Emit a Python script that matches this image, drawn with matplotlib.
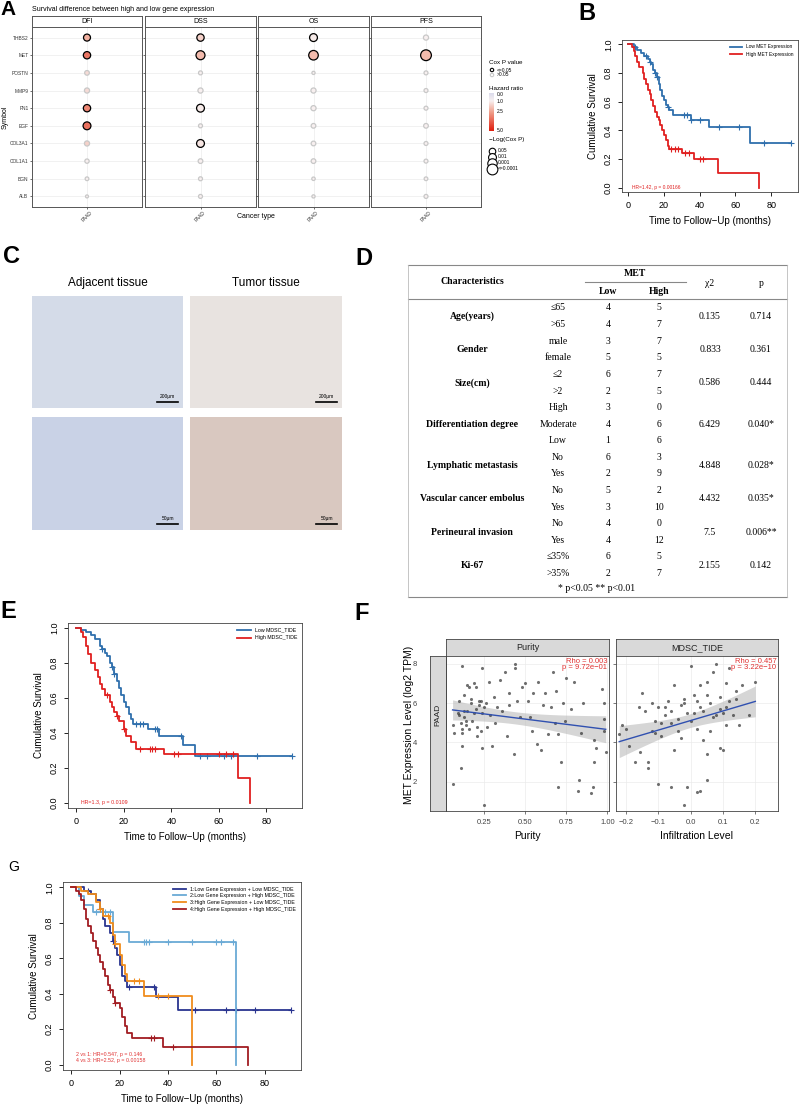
import numpy as np
import matplotlib
matplotlib.use("Agg")
import matplotlib.pyplot as plt
from matplotlib.colors import LinearSegmentedColormap

W, H = 800, 1107

# ---------------- data ----------------
genes = ["THBS2", "MET", "POSTN", "MMP9", "FN1", "EGF", "COL3A1", "COL1A1", "BGN", "ALB"]
endpoints = ["DFI", "DSS", "OS", "PFS"]
hazard = {
    "DFI": [2.2, 3.3, 1.4, 1.4, 3.0, 3.4, 1.6, 1.0, 1.0, 1.0],
    "DSS": [1.6, 2.0, 1.0, 1.0, 1.1, 1.0, 1.2, 1.0, 1.0, 1.0],
    "OS": [1.1, 2.0, 1.0, 1.0, 1.0, 1.0, 1.0, 1.0, 1.0, 1.0],
    "PFS": [1.0, 2.0, 1.0, 1.0, 1.0, 1.0, 1.0, 1.0, 1.0, 1.0],
}
cox_p = {
    "DFI": [0.03, 0.02, 0.3, 0.2, 0.02, 0.01, 0.2, 0.4, 0.6, 0.9],
    "DSS": [0.02, 0.002, 0.5, 0.2, 0.01, 0.5, 0.01, 0.3, 0.5, 0.5],
    "OS": [0.01, 0.0008, 0.8, 0.2, 0.2, 0.3, 0.3, 0.3, 0.7, 0.8],
    "PFS": [0.2, 0.0001, 0.5, 0.5, 0.5, 0.3, 0.5, 0.5, 0.6, 0.5],
}

# B: MET expression KM
b_low_t = [0, 3, 5, 7, 9, 11, 12, 13, 14, 15, 16, 17, 18, 19, 20, 21, 22, 23, 25, 35, 45, 68]
b_low_s = [1.0, .98, .96, .94, .92, .90, .88, .86, .82, .80, .77, .72, .68, .64, .61, .58, .56, .54, .51, .47, .42, .31]
b_low_end = 91
b_low_cens = [4, 10, 12, 15, 16, 22, 31, 33, 35, 40, 51, 62, 76, 91]
b_high_t = [0, 2, 3, 4, 5, 6, 8, 9, 10, 11, 12, 13, 14, 15, 16, 17, 18, 19, 20, 21, 22, 23, 30, 37, 50, 73]
b_high_s = [1.0, .98, .95, .92, .88, .84, .80, .76, .72, .68, .65, .61, .57, .53, .49, .47, .44, .40, .37, .33, .29, .27, .24, .20, .10, 0.0]
b_high_end = 73
b_high_cens = [24, 26, 28, 32, 34, 40, 42]

# E: MDSC_TIDE KM
e_low_t = [0, 2, 4, 6, 8, 10, 11, 12, 13, 14, 15, 16, 17, 18, 19, 20, 21, 22, 23, 24, 30, 35, 45, 50]
e_low_s = [1.0, .99, .98, .96, .94, .90, .88, .86, .84, .80, .78, .74, .70, .66, .62, .58, .55, .51, .48, .45, .42, .38, .33, .27]
e_low_end = 91
e_low_cens = [11, 15, 16, 25, 27, 28, 33, 34, 44, 52, 55, 62, 65, 76, 91]
e_high_t = [0, 2, 3, 4, 5, 6, 8, 9, 10, 11, 12, 14, 15, 16, 17, 18, 20, 21, 23, 25, 37, 68, 73]
e_high_s = [1.0, .98, .95, .90, .85, .80, .76, .72, .68, .65, .62, .58, .55, .52, .50, .47, .42, .38, .35, .31, .28, .14, 0.0]
e_high_end = 73
e_high_cens = [13, 17, 20, 27, 31, 32, 33, 41, 43, 60, 63, 66]

# G: four groups KM
g1_t = [0, 5, 8, 10, 12, 13, 14, 16, 17, 18, 19, 20, 21, 22, 23, 35, 44]
g1_s = [1.0, .98, .96, .93, .88, .82, .78, .74, .70, .66, .62, .56, .50, .47, .44, .38, .31]
g1_end = 91
g1_cens = [7, 12, 17, 24, 34, 51, 64, 68, 76, 91]
g2_t = [0, 3, 5, 9, 17, 24, 68]
g2_s = [1.0, .95, .90, .86, .75, .69, 0.0]
g2_end = 68
g2_cens = [10, 14, 16, 30, 31, 32, 40, 50, 60, 62, 67]
g3_t = [0, 4, 7, 10, 12, 13, 16, 17, 18, 20, 21, 22, 23, 30, 50]
g3_s = [1.0, .98, .96, .92, .88, .84, .80, .73, .68, .62, .56, .51, .47, .39, 0.0]
g3_end = 50
g3_cens = [12, 15, 18, 26, 28, 36, 40]
g4_t = [0, 2, 3, 4, 5, 6, 7, 8, 9, 10, 11, 12, 13, 14, 15, 16, 17, 18, 20, 21, 22, 23, 25, 38, 73]
g4_s = [1.0, .98, .96, .93, .88, .82, .78, .74, .70, .66, .62, .58, .54, .50, .45, .42, .38, .35, .32, .27, .22, .18, .15, .10, 0.0]
g4_end = 73
g4_cens = [16, 18, 33, 34, 42]

# F: scatter (purity, MET) and (MDSC_TIDE, MET)
pur_x = [0.06, 0.06, 0.07, 0.09, 0.10, 0.11, 0.11, 0.12, 0.12, 0.12, 0.13, 0.13, 0.14, 0.15, 0.15, 0.16, 0.17,
         0.18, 0.19, 0.20, 0.20, 0.21, 0.22, 0.22, 0.23, 0.24, 0.24, 0.25, 0.25, 0.26, 0.27, 0.28, 0.29, 0.30,
         0.31, 0.32, 0.33, 0.35, 0.36, 0.38, 0.39, 0.40, 0.40, 0.43, 0.44, 0.44, 0.45, 0.47, 0.48, 0.50, 0.52,
         0.53, 0.54, 0.55, 0.57, 0.58, 0.60, 0.61, 0.62, 0.64, 0.66, 0.67, 0.68, 0.69, 0.70, 0.70, 0.72, 0.73,
         0.74, 0.75, 0.78, 0.80, 0.82, 0.83, 0.84, 0.85, 0.90, 0.91, 0.92, 0.92, 0.93, 0.97, 0.98, 0.98, 0.99, 0.98,
         0.10, 0.12, 0.14, 0.17, 0.19, 0.21, 0.23, 0.13, 0.16, 0.24]
pur_y = [1.9, 4.9, 4.5, 5.5, 6.1, 2.7, 5.0, 7.9, 4.5, 3.8, 6.4, 5.3, 4.9, 6.9, 5.6, 4.7, 6.2,
         5.1, 7.0, 5.7, 6.8, 4.3, 5.9, 6.1, 4.6, 7.8, 3.7, 5.8, 0.8, 6.0, 4.8, 7.1, 5.4, 3.8,
         6.3, 5.0, 5.8, 7.2, 5.6, 7.6, 4.3, 6.5, 5.9, 3.4, 8.0, 7.8, 6.1, 5.3, 6.8, 7.0, 6.1,
         5.3, 4.6, 6.5, 3.9, 7.1, 3.6, 5.9, 6.5, 4.4, 5.8, 7.6, 5.0, 6.6, 1.7, 4.4, 3.0, 6.0,
         5.1, 7.3, 5.7, 7.1, 1.5, 2.1, 4.5, 6.0, 1.4, 1.7, 4.1, 3.0, 3.7, 6.7, 6.0, 4.6, 3.5, 5.2,
         5.4, 4.7, 5.1, 6.0, 5.5, 4.8, 6.1, 5.6, 6.8, 5.5]
mdsc_x = [-0.22, -0.21, -0.20, -0.19, -0.17, -0.16, -0.155, -0.15, -0.14, -0.13, -0.13, -0.12, -0.12, -0.11,
          -0.10, -0.10, -0.09, -0.08, -0.07, -0.06, -0.06, -0.05, -0.05, -0.04, -0.03, -0.03, -0.02, -0.02,
          -0.01, -0.01, 0.00, 0.00, 0.01, 0.02, 0.02, 0.03, 0.03, 0.04, 0.04, 0.05, 0.05, 0.05, 0.06, 0.06,
          0.07, 0.08, 0.08, 0.09, 0.09, 0.10, 0.10, 0.11, 0.11, 0.12, 0.12, 0.13, 0.14, 0.15, 0.16, 0.18, 0.20,
          -0.08, -0.02, 0.03, 0.07, 0.01, -0.04, 0.09, -0.11, -0.06, 0.05, 0.11, 0.14, -0.09, 0.02]
mdsc_y = [4.4, 4.9, 4.7, 3.8, 3.0, 5.8, 3.5, 6.5, 5.6, 2.7, 3.0, 6.0, 4.6, 5.1,
          1.9, 5.8, 4.3, 5.4, 6.1, 1.7, 5.0, 3.6, 6.9, 4.6, 5.9, 4.2, 0.8, 6.0,
          1.7, 5.5, 7.9, 5.1, 6.4, 4.7, 1.45, 1.5, 6.9, 5.6, 4.1, 7.1, 2.1, 3.4, 6.0, 4.6,
          7.6, 5.4, 8.0, 3.7, 6.3, 3.6, 5.5, 7.0, 4.9, 6.1, 7.8, 5.4, 6.6, 4.9, 6.9, 5.4, 7.1,
          5.8, 6.2, 5.8, 5.3, 5.5, 5.2, 5.7, 4.5, 5.6, 6.4, 5.8, 6.2, 5.0, 6.1]

# D: table
tab_groups = ["Age(years)", "Gender", "Size(cm)", "Differentiation degree", "Lymphatic metastasis",
              "Vascular cancer embolus", "Perineural invasion", "Ki-67"]
tab_sub = [["≤65", ">65"], ["male", "female"], ["≤2", ">2"], ["High", "Moderate", "Low"], ["No", "Yes"],
           ["No", "Yes"], ["No", "Yes"], ["≤35%", ">35%"]]
tab_low = [[4, 4], [3, 5], [6, 2], [3, 4, 1], [6, 2], [5, 3], [4, 4], [6, 2]]
tab_high = [[5, 7], [7, 5], [7, 5], [0, 6, 6], [3, 9], [2, 10], [0, 12], [5, 7]]
tab_chi = ["0.135", "0.833", "0.586", "6.429", "4.848", "4.432", "7.5", "2.155"]
tab_p = ["0.714", "0.361", "0.444", "0.040*", "0.028*", "0.035*", "0.006**", "0.142"]

fig = plt.figure(figsize=(W / 100, H / 100), dpi=100)
plt.rcParams["font.family"] = "Liberation Sans"


def ax_px(x0, y0, x1, y1):
    return fig.add_axes([x0 / W, 1 - y1 / H, (x1 - x0) / W, (y1 - y0) / H])


def label(x, y, s, size=15):
    fig.text(x / W, 1 - y / H, s, fontsize=size, fontweight="bold", va="top", ha="left")


# ---------------- A ----------------
hr_cmap = LinearSegmentedColormap.from_list("hr", [(0, "#dcdcec"), (0.2, "#f8f0f0"), (0.5, "#f0a08c"), (1, "#e02010")])
strip_x = [(32, 142), (145, 256), (258, 369), (371, 481)]
for k, ep in enumerate(endpoints):
    x0, x1 = strip_x[k]
    st = ax_px(x0, 16, x1, 27)
    st.set_xticks([]); st.set_yticks([])
    st.text(0.5, 0.5, ep, ha="center", va="center", fontsize=5)
    st.set_facecolor("white")
    for s in st.spines.values():
        s.set_color("#555555"); s.set_linewidth(0.7)
    ax = ax_px(x0, 27, x1, 207)
    yy = np.arange(len(genes))
    ax.grid(True, color="#ebebeb", lw=0.5)
    ax.set_axisbelow(True)
    lp = -np.log10(np.array(cox_p[ep]))
    sizes = 4 + 14 * np.clip(lp, 0, 4)
    cols = hr_cmap(np.clip(np.array(hazard[ep]) / 5, 0, 1))
    edge = ["black" if p <= 0.05 else "#c8c8c8" for p in cox_p[ep]]
    ax.scatter(np.zeros(len(genes)), yy, s=sizes, c=cols, edgecolors=edge, linewidths=0.9, zorder=3)
    ax.set_ylim(len(genes) - 0.4, -0.6)
    ax.set_xlim(-1, 1)
    ax.set_xticks([0]); ax.set_xticklabels(["PAAD"], rotation=45, fontsize=3.5)
    ax.set_yticks(yy)
    if k == 0:
        ax.set_yticklabels(genes, fontsize=3.5)
    else:
        ax.set_yticklabels([])
    ax.tick_params(length=1.5, width=0.5, pad=1, colors="#333333")
    for s in ax.spines.values():
        s.set_color("#555555"); s.set_linewidth(0.7)
fig.text(5 / W, 1 - 117 / H, "Symbol", fontsize=5, rotation=90, ha="center", va="center")
fig.text(32 / W, 1 - 13 / H, "Survival difference between high and low gene expression", fontsize=5, va="bottom")
fig.text(256 / W, 1 - 217 / H, "Cancer type", fontsize=5, ha="center", va="center")
# legend
lg = ax_px(485, 40, 560, 200)
lg.set_xlim(485, 560); lg.set_ylim(200, 40); lg.axis("off")
lg.text(489, 63, "Cox P value", fontsize=4.5, va="center")
lg.scatter([492, 492], [70, 75], s=6, c="white", edgecolors=["black", "#c8c8c8"], linewidths=0.8)
lg.text(497, 70, "<=0.05", fontsize=3.5, va="center")
lg.text(497, 75, ">0.05", fontsize=3.5, va="center")
lg.text(489, 88, "Hazard ratio", fontsize=4.5, va="center")
grad = np.linspace(0, 1, 50).reshape(-1, 1)
lg.imshow(grad, cmap=hr_cmap, extent=(489, 494, 131, 93), aspect="auto")
for v, yv in [("0.0", 94), ("1.0", 102), ("2.5", 112), ("5.0", 131)]:
    lg.text(497, yv, v, fontsize=3.5, va="center")
lg.text(489, 140, "\u2212Log(Cox P)", fontsize=4.5, va="center")
for i, (v, p) in enumerate([("0.05", 0.05), ("0.01", 0.01), ("0.001", 0.001), ("<=0.0001", 0.0001)]):
    lg.scatter([492], [151 + 6 * i], s=4 + 14 * -np.log10(p), c="white", edgecolors="black", linewidths=0.8)
    lg.text(498, 151 + 6 * i, v, fontsize=3.5, va="center")
label(0, 0, "A")


# ---------------- KM helper ----------------
def km(ax, t, s, end, cens, color, name, lw=1.3):
    tt = list(t) + [end]
    ss = list(s) + [s[-1]]
    line, = ax.step(tt, ss, where="post", color=color, lw=lw, label=name)
    cs = [s[np.searchsorted(t, c, side="right") - 1] for c in cens]
    ax.plot(cens, cs, "+", color=color, ms=4, mew=0.8)
    return line


def km_axes(ax, fs=7):
    ax.set_xlim(-3.5, 95)
    ax.set_ylim(-0.03, 1.03)
    ax.set_xticks([0, 20, 40, 60, 80])
    ax.set_yticks([0, 0.2, 0.4, 0.6, 0.8, 1.0])
    ax.set_yticklabels(["0.0", "0.2", "0.4", "0.6", "0.8", "1.0"], rotation=90, va="center")
    ax.tick_params(labelsize=fs, length=3, width=0.6)
    ax.set_xlabel("Time to Follow\u2212Up (months)", fontsize=fs + 0.5)
    ax.set_ylabel("Cumulative Survival", fontsize=fs + 0.5)
    for sp in ax.spines.values():
        sp.set_linewidth(0.6); sp.set_color("#444444")


# ---------------- B ----------------
axb = ax_px(622, 40, 798, 192)
hb = [km(axb, b_low_t, b_low_s, b_low_end, b_low_cens, "#2f6fad", "Low MET Expression"),
      km(axb, b_high_t, b_high_s, b_high_end, b_high_cens, "#e02020", "High MET Expression")]
km_axes(axb, 6.5)
axb.legend(handles=hb, fontsize=3.5, frameon=False, loc="upper right", handlelength=2.5)
axb.text(2, 0.0, "HR=1.42, p = 0.00166", color="#e02020", fontsize=3.5, va="center")
label(578, 2, "B", 17)

# ---------------- C ----------------
fig.text(108 / W, 1 - 283 / H, "Adjacent tissue", fontsize=8.5, ha="center", va="center")
fig.text(266 / W, 1 - 283 / H, "Tumor tissue", fontsize=8.5, ha="center", va="center")
imgs = [((32, 296, 183, 408), "#d4dbe8", "200μm"), ((190, 296, 342, 408), "#e8e3e0", "200μm"),
        ((32, 417, 183, 530), "#c9d2e6", "50μm"), ((190, 417, 342, 530), "#d9c8c0", "50μm")]
for (x0, y0, x1, y1), fc, sb in imgs:
    a = ax_px(x0, y0, x1, y1)
    a.set_facecolor(fc)
    a.set_xticks([]); a.set_yticks([])
    for sp in a.spines.values():
        sp.set_visible(False)
    a.set_xlim(0, 1); a.set_ylim(0, 1)
    a.plot([0.83, 0.97], [0.05, 0.05], color="black", lw=1.2)
    a.text(0.9, 0.08, sb, fontsize=3.5, ha="center", va="bottom")
label(3, 245, "C", 17)

# ---------------- D ----------------
axd = ax_px(400, 255, 795, 600)
axd.set_xlim(400, 795); axd.set_ylim(600, 255); axd.axis("off")
tf = dict(fontfamily="Liberation Serif", fontsize=7, ha="center", va="center")
axd.plot([408, 787], [265, 265], color="#888888", lw=0.8)
axd.plot([408, 787], [299, 299], color="#888888", lw=0.8)
axd.plot([408, 787], [597, 597], color="#888888", lw=0.8)
axd.plot([408, 408], [265, 597], color="#bbbbbb", lw=0.6)
axd.plot([787, 787], [265, 597], color="#bbbbbb", lw=0.6)
axd.plot([585, 686], [282, 282], color="#888888", lw=0.8)
axd.text(472, 282, "Characteristics", fontweight="bold", **tf)
axd.text(635, 274, "MET", fontweight="bold", **tf)
axd.text(608, 291, "Low", fontweight="bold", **tf)
axd.text(659, 291, "High", fontweight="bold", **tf)
axd.text(710, 283, "χ2", **tf)
axd.text(761, 284, "p", **tf)
row = 0
step = 16.6
for g, subs, lows, highs, chi, p in zip(tab_groups, tab_sub, tab_low, tab_high, tab_chi, tab_p):
    ys = [308 + step * (row + i) for i in range(len(subs))]
    ym = np.mean(ys)
    axd.text(472, ym, g, fontweight="bold", **tf)
    axd.text(710, ym, chi, **tf)
    axd.text(761, ym, p, **tf)
    for y, s, lo, hi in zip(ys, subs, lows, highs):
        axd.text(558, y, s, **tf)
        axd.text(608, y, str(lo), **tf)
        axd.text(659, y, str(hi), **tf)
    row += len(subs)
axd.text(597, 589, "* p<0.05 ** p<0.01", **tf)
label(355, 247, "D", 17)

# ---------------- E ----------------
axe = ax_px(68, 623, 302, 808)
he = [km(axe, e_low_t, e_low_s, e_low_end, e_low_cens, "#2f6fad", "Low MDSC_TIDE"),
      km(axe, e_high_t, e_high_s, e_high_end, e_high_cens, "#e02020", "High MDSC_TIDE")]
km_axes(axe, 6.5)
axe.legend(handles=he, fontsize=3.8, frameon=False, loc="upper right", handlelength=2.5)
axe.text(2, 0.0, "HR=1.3, p = 0.0109", color="#e02020", fontsize=3.8, va="center")
label(0, 600, "E", 17)


# ---------------- F ----------------
def fpanel(x0, x1, xs, ys, title, xl, xt, xtl, rho, pv, ylab=False):
    st = ax_px(x0, 639, x1, 656)
    st.set_facecolor("#d9d9d9"); st.set_xticks([]); st.set_yticks([])
    st.text(0.5, 0.5, title, ha="center", va="center", fontsize=6.5, color="#222222")
    for sp in st.spines.values():
        sp.set_color("#444444"); sp.set_linewidth(0.6)
    ax = ax_px(x0, 656, x1, 811)
    xs = np.array(xs); ys = np.array(ys)
    ax.scatter(xs, ys, s=5, color="#333333", alpha=0.7, lw=0, zorder=3)
    b, a = np.polyfit(xs, ys, 1)
    gx = np.linspace(xs.min(), xs.max(), 50)
    res = ys - (a + b * xs)
    se = np.sqrt(np.sum(res ** 2) / (len(xs) - 2))
    band = 1.96 * se * np.sqrt(1 / len(xs) + (gx - xs.mean()) ** 2 / np.sum((xs - xs.mean()) ** 2))
    ax.fill_between(gx, a + b * gx - band, a + b * gx + band, color="#bbbbbb", alpha=0.6, lw=0, zorder=2)
    ax.plot(gx, a + b * gx, color="#3050b0", lw=1, zorder=4)
    ax.set_xlim(*xl); ax.set_ylim(0.5, 8.4)
    ax.set_xticks(xt); ax.set_xticklabels(xtl)
    ax.set_yticks([2, 4, 6, 8])
    ax.grid(True, color="#ebebeb", lw=0.5)
    ax.set_axisbelow(True)
    ax.tick_params(labelsize=5.5, length=2, width=0.5, colors="#444444")
    if ylab:
        ax.tick_params(axis="y", pad=19)
    else:
        ax.set_yticklabels([])
    ax.text(0.99, 0.99, "Rho = %s\np = %s" % (rho, pv), transform=ax.transAxes, ha="right", va="top",
            fontsize=5.5, color="#e03030", linespacing=0.95)
    for sp in ax.spines.values():
        sp.set_color("#444444"); sp.set_linewidth(0.6)
    return ax


fl = fpanel(446, 609, pur_x, pur_y, "Purity", (0.02, 1.01), [0.25, 0.5, 0.75, 1.0],
            ["0.25", "0.50", "0.75", "1.00"], "0.003", "9.72e\u221201", True)
fl.set_xlabel("Purity", fontsize=7.5)
fr = fpanel(616, 778, mdsc_x, mdsc_y, "MDSC_TIDE", (-0.23, 0.27), [-0.2, -0.1, 0, 0.1, 0.2],
            ["\u22120.2", "\u22120.1", "0.0", "0.1", "0.2"], "0.457", "3.22e\u221210")
fr.set_xlabel("Infiltration Level", fontsize=7.5)
ps = ax_px(430, 656, 446, 811)
ps.set_facecolor("#d9d9d9"); ps.set_xticks([]); ps.set_yticks([])
ps.text(0.5, 0.62, "PAAD", rotation=90, ha="center", va="center", fontsize=6, color="#222222")
for sp in ps.spines.values():
    sp.set_color("#444444"); sp.set_linewidth(0.6)
fig.text(409 / W, 1 - 725 / H, "MET Expression Level (log2 TPM)", rotation=90, fontsize=7.5, ha="center", va="center")
label(354, 602, "F", 17)

# ---------------- G ----------------
axg = ax_px(63, 882, 301, 1070)
hg = [km(axg, g1_t, g1_s, g1_end, g1_cens, "#2a3590", "1:Low Gene Expression + Low MDSC_TIDE"),
      km(axg, g2_t, g2_s, g2_end, g2_cens, "#6aaad6", "2:Low Gene Expression + High MDSC_TIDE"),
      km(axg, g3_t, g3_s, g3_end, g3_cens, "#f08c1c", "3:High Gene Expression + Low MDSC_TIDE"),
      km(axg, g4_t, g4_s, g4_end, g4_cens, "#a11c22", "4:High Gene Expression + High MDSC_TIDE")]
km_axes(axg, 6.5)
axg.legend(handles=hg, fontsize=3.8, frameon=False, loc="upper right", handlelength=2.5, labelspacing=0.3)
axg.text(2, 0.01, "2 vs 1: HR=0.547, p = 0.146\n4 vs 3: HR=2.52, p = 0.00158", color="#e03030", fontsize=3.8,
         va="bottom")
fig.text(8 / W, 1 - 860 / H, "G", fontsize=10, va="top")

fig.savefig("out.png", dpi=100)
